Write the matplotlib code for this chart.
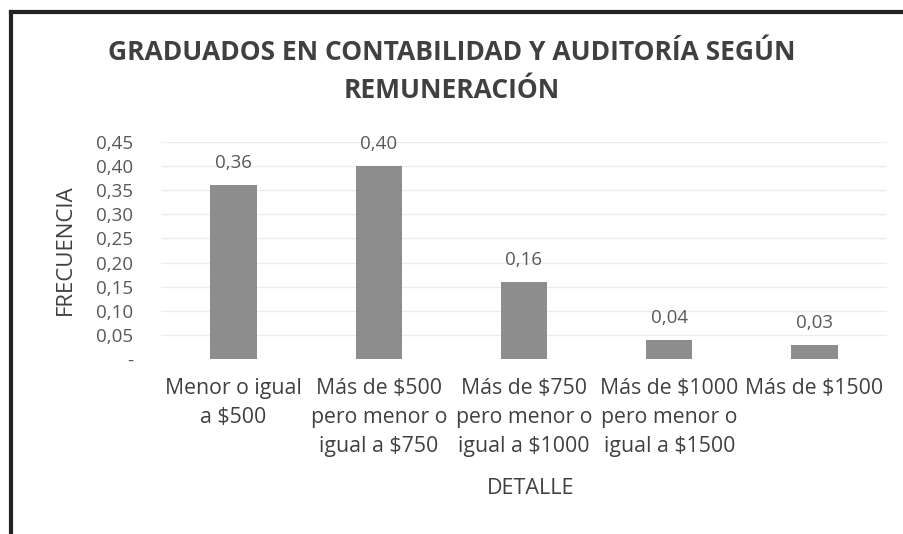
import matplotlib
matplotlib.use("Agg")
import matplotlib.pyplot as plt
from matplotlib.lines import Line2D

categories = ["Menor o igual\na $500", "Más de $500\npero menor o\nigual a $750",
              "Más de $750\npero menor o\nigual a $1000", "Más de $1000\npero menor o\nigual a $1500",
              "Más de $1500"]
values = [0.36, 0.40, 0.16, 0.04, 0.03]
value_labels = ["0,36", "0,40", "0,16", "0,04", "0,03"]
yticks = [0, 0.05, 0.10, 0.15, 0.20, 0.25, 0.30, 0.35, 0.40, 0.45]
ytick_labels = ["-", "0,05", "0,10", "0,15", "0,20", "0,25", "0,30", "0,35", "0,40", "0,45"]

plt.rcParams['font.family'] = ['Open Sans', 'DejaVu Sans']
txt = "#595959"

fig = plt.figure(figsize=(9.04, 5.34), dpi=100)
ax = fig.add_axes([161/904, 1-359/534, (887-161)/904, (359-142)/534])

x = list(range(len(categories)))
ax.bar(x, values, width=0.32, color="#8d8d8d", zorder=3)
for xi, v, lab in zip(x, values, value_labels):
    ax.annotate(lab, (xi, v), xytext=(0, 22), textcoords="offset pixels",
                ha="center", va="center", fontsize=13.5, color=txt)

ax.set_xlim(-0.5, 4.5)
ax.set_ylim(0, 0.45)
ax.set_yticks(yticks)
ax.set_yticklabels(ytick_labels, fontsize=13.5, color=txt)
ax.set_xticks(x)
ax.set_xticklabels(categories, fontsize=15.3, color="#404040", linespacing=1.5)
ax.tick_params(axis="y", length=0, pad=20)
ax.tick_params(axis="x", length=0, pad=14)
ax.yaxis.grid(True, color="#ececec", linewidth=1, zorder=0)
for s in ax.spines.values():
    s.set_visible(False)

fig.text(65/904, 1-250/534, "FRECUENCIA", rotation=90, ha="center", va="center",
         fontsize=16, color="#404040")
fig.text(531/904, 1-488/534, "DETALLE", ha="center", va="center",
         fontsize=15.5, color="#404040")

fig.text(0.5, 1-52/534, "GRADUADOS EN CONTABILIDAD Y AUDITORÍA SEGÚN", ha="center", va="center",
         fontsize=19, fontweight="bold", color="#404040")
fig.text(0.5, 1-90/534, "REMUNERACIÓN", ha="center", va="center",
         fontsize=19, fontweight="bold", color="#404040")

fig.add_artist(Line2D([11/904, 1.0], [1-12/534, 1-12/534], transform=fig.transFigure, color="#222222", linewidth=3))
fig.add_artist(Line2D([11/904, 11/904], [0, 1-12/534], transform=fig.transFigure, color="#222222", linewidth=3))

fig.savefig("out.png", dpi=100, facecolor="white")
